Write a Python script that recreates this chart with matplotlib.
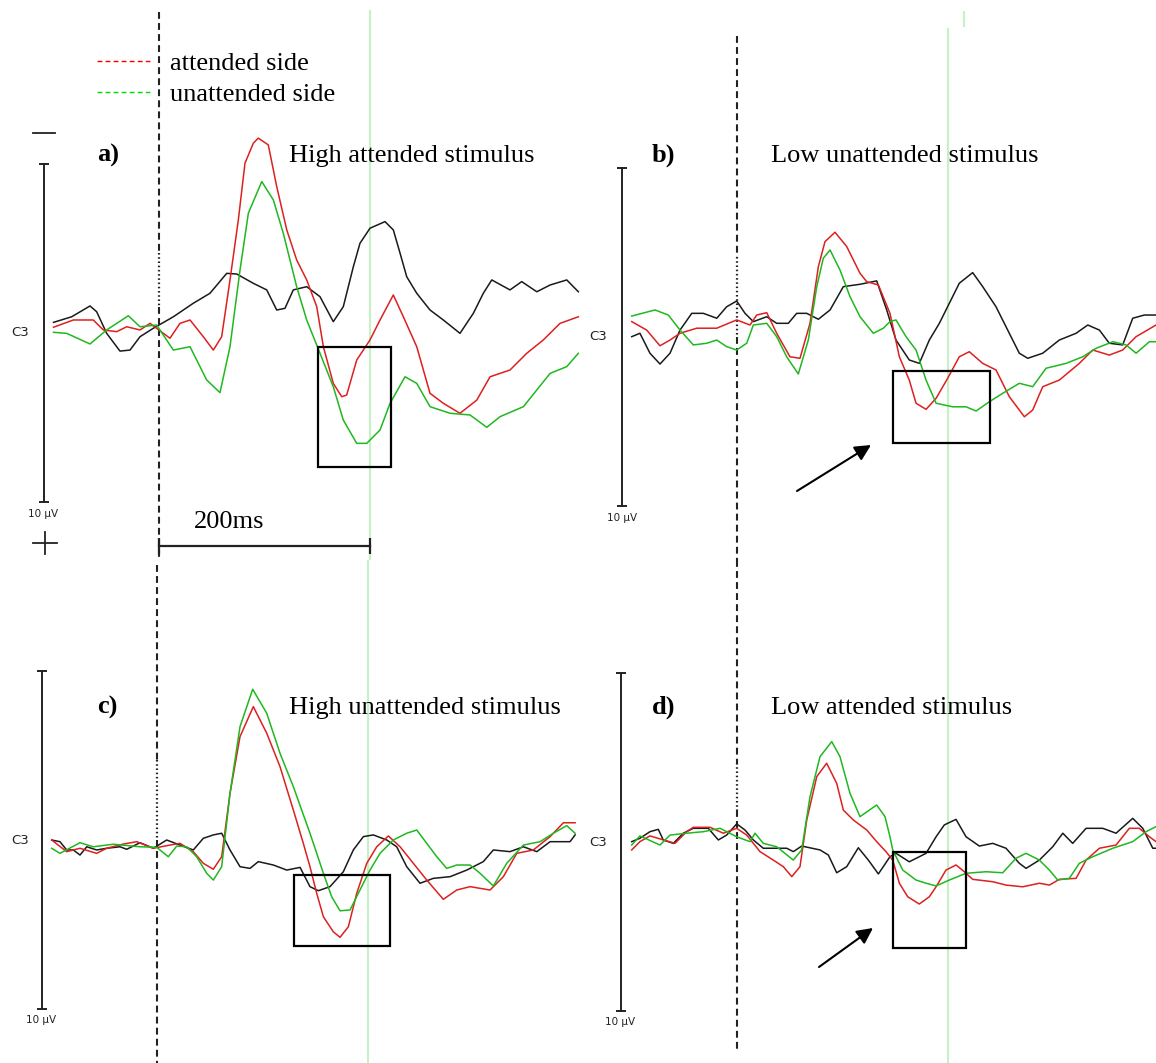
import matplotlib.pyplot as plt
from matplotlib.lines import Line2D
from matplotlib.patches import Rectangle

# ----- ERP data (time in ms, amplitude in uV, negative plotted up) -----
a_black_t = [-100, -82.8, -65.4, -59.1, -49.6, -37.0, -27.5, -18.0, -5.4, 13.6, 32.5, 48.3, 64.2, 73.7, 89.4,
             102.1, 111.6, 119.4, 127.3, 140.0, 152.6, 165.2, 174.7, 184.2, 190.5, 200.0, 214.2, 222.1, 228.5,
             234.8, 244.3, 256.9, 269.5, 285.3, 298.0, 307.4, 315.4, 332.7, 343.8, 358.1, 370.7, 386.5, 397.5]
a_black = [-0.63, -0.96, -1.60, -1.26, 0.02, 1.07, 1.01, 0.22, -0.28, -0.96, -1.76, -2.35, -3.53, -3.49, -2.94,
           -2.55, -1.36, -1.46, -2.55, -2.74, -2.15, -0.67, -1.56, -3.92, -5.31, -6.20, -6.59, -6.10, -4.72,
           -3.33, -2.35, -1.36, -0.77, 0.02, -1.17, -2.35, -3.14, -2.55, -3.04, -2.44, -2.84, -3.14, -2.44]
a_red_t = [-100, -81.2, -62.3, -52.8, -40.1, -30.6, -18.0, -8.5, 10.4, 19.9, 29.4, 42.0, 51.5, 59.4, 67.3,
           75.2, 81.5, 89.4, 94.1, 103.6, 111.6, 121.1, 130.5, 140.0, 149.5, 155.8, 165.2, 173.2, 177.9, 187.4,
           200.0, 209.5, 222.1, 231.6, 244.3, 256.9, 269.5, 285.3, 301.2, 313.8, 332.7, 348.6, 364.3, 380.1, 397.5]
a_red = [-0.34, -0.77, -0.77, -0.18, -0.08, -0.37, -0.18, -0.57, 0.31, -0.57, -0.77, 0.22, 1.01, 0.22, -3.14,
         -6.69, -10.05, -11.23, -11.53, -11.13, -8.66, -6.10, -4.32, -3.14, -1.56, 0.81, 2.98, 3.77, 3.67, 1.60,
         0.41, -0.77, -2.25, -0.96, 0.81, 3.57, 4.16, 4.75, 3.97, 2.59, 2.19, 1.20, 0.41, -0.57, -0.96]
a_green_t = [-100, -87.5, -65.4, -49.6, -29.1, -18.0, -2.2, 13.6, 29.4, 45.2, 57.8, 67.3, 76.8, 84.7, 97.4,
             108.4, 117.8, 130.5, 140.0, 152.6, 165.2, 174.7, 187.4, 196.9, 209.5, 219.0, 233.2, 244.3, 256.9,
             275.9, 294.8, 310.7, 323.3, 345.4, 370.7, 386.5, 397.5]
a_green = [-0.04, 0.02, 0.65, -0.18, -1.02, -0.37, -0.47, 1.01, 0.81, 2.78, 3.53, 0.81, -3.73, -7.09, -8.96,
           -7.87, -5.90, -2.74, -0.77, 1.20, 3.18, 5.15, 6.53, 6.53, 5.74, 4.16, 2.59, 2.98, 4.36,
           4.75, 4.85, 5.58, 4.95, 4.36, 2.39, 1.99, 1.20]

b_black_t = [-99.8, -92.0, -82.5, -73.0, -63.5, -54.0, -42.9, -31.9, -19.2, -9.8, -0.3, 7.6, 15.5, 28.2, 37.6,
             48.6, 56.6, 66.1, 77.1, 88.2, 100.8, 116.6, 132.4, 141.9, 150.7, 163.3, 172.8, 182.3, 191.8, 201.3,
             210.7, 223.4, 232.9, 245.5, 258.1, 267.6, 275.6, 289.8, 305.5, 321.4, 332.5, 343.5, 352.9, 365.6,
             375.1, 386.1, 397.2]
b_black = [-0.02, -0.22, 0.96, 1.60, 0.96, -0.41, -1.40, -1.40, -1.11, -1.79, -2.13, -1.40, -0.91, -1.20, -0.81,
           -0.81, -1.40, -1.40, -1.05, -1.60, -2.98, -3.12, -3.32, -1.60, 0.18, 1.36, 1.56, 0.18, -0.81, -2.00,
           -3.18, -3.81, -2.98, -1.79, -0.22, 0.96, 1.26, 0.96, 0.18, -0.22, -0.71, -0.41, 0.37, 0.47,
           -1.11, -1.30, -1.30]
b_red_t = [-99.8, -85.6, -73.0, -63.5, -54.0, -38.2, -19.2, -0.3, 12.3, 18.7, 28.2, 37.6, 50.2, 59.7, 69.2,
           77.1, 83.4, 92.9, 104.0, 116.6, 123.0, 134.0, 145.0, 153.9, 163.3, 169.7, 179.2, 188.7, 199.7, 210.7,
           220.2, 232.9, 245.5, 258.1, 272.4, 280.3, 289.8, 305.5, 324.5, 337.2, 352.9, 365.6, 378.3, 397.2]
b_red = [-0.91, -0.41, 0.52, 0.18, -0.22, -0.52, -0.52, -1.01, -0.71, -1.30, -1.44, -0.22, 1.17, 1.26, -0.81,
         -4.16, -5.64, -6.20, -5.35, -3.77, -3.27, -3.08, -1.40, 1.17, 2.55, 3.92, 4.28, 3.63, 2.44, 1.17,
         0.87, 1.56, 1.95, 3.53, 4.72, 4.32, 2.94, 2.55, 1.56, 0.77, 1.07, 0.77, -0.02, -0.71]
b_green_t = [-99.8, -77.7, -65.1, -54.0, -41.4, -28.7, -19.2, -9.8, -0.3, 9.2, 15.5, 28.2, 37.6, 47.1, 58.1,
             67.6, 75.6, 81.8, 88.2, 97.6, 107.1, 116.6, 129.2, 138.7, 145.0, 150.7, 160.2, 169.7, 179.2, 188.7,
             204.5, 217.1, 226.6, 239.2, 251.9, 267.6, 280.3, 292.9, 311.9, 327.7, 340.3, 356.2, 368.8, 378.3,
             390.9, 397.2]
b_green = [-1.24, -1.60, -1.30, -0.41, 0.47, 0.37, 0.18, 0.57, 0.77, 0.37, -0.71, -0.81, -0.02, 1.17, 2.19,
           0.18, -2.98, -4.66, -5.15, -3.97, -2.39, -1.20, -0.22, -0.52, -0.91, -1.01, -0.02, 0.77, 2.55, 3.92,
           4.13, 4.13, 4.38, 3.83, 3.33, 2.74, 2.94, 1.85, 1.56, 1.17, 0.67, 0.28, 0.47, 0.96,
           0.28, 0.28]

c_black_t = [-99.8, -92.0, -85.6, -79.3, -73.0, -66.6, -57.2, -47.7, -35.1, -28.7, -16.1, -3.5, 9.2, 21.8, 34.4,
             43.9, 53.4, 61.3, 69.2, 78.7, 88.2, 96.0, 110.3, 123.0, 135.6, 145.0, 152.9, 164.0, 176.6, 186.1,
             195.6, 205.1, 217.8, 227.2, 236.7, 249.3, 261.9, 277.8, 293.6, 309.3, 318.8, 334.6, 347.3, 360.0,
             372.6, 391.5, 396.3]
c_black = [0.00, 0.10, 0.59, 0.59, 0.89, 0.40, 0.59, 0.49, 0.40, 0.55, 0.16, 0.49, 0.00, 0.30, 0.59,
           -0.10, -0.30, -0.40, 0.59, 1.58, 1.68, 1.28, 1.48, 1.78, 1.62, 2.76, 3.00, 2.76, 1.88, 0.59,
           -0.20, -0.30, 0.00, 0.40, 1.58, 2.56, 2.27, 2.17, 1.78, 1.28, 0.59, 0.69, 0.40, 0.69,
           0.10, 0.10, -0.30]
c_red_t = [-99.8, -85.6, -73.0, -57.2, -47.7, -31.9, -19.2, -3.5, 12.3, 21.8, 34.4, 43.9, 53.4, 61.3, 69.2,
           78.7, 91.3, 104.0, 116.6, 129.2, 138.7, 145.0, 151.4, 157.7, 167.1, 173.5, 181.4, 189.3, 198.8, 208.3,
           219.3, 230.4, 243.0, 255.7, 271.4, 284.1, 296.7, 315.7, 328.3, 341.0, 356.7, 372.6, 385.2, 396.3]
c_red = [0.00, 0.69, 0.49, 0.79, 0.49, 0.24, 0.10, 0.49, 0.30, 0.20, 0.69, 1.38, 1.73, 0.99, -2.76,
         -6.12, -7.89, -6.32, -4.34, -1.78, 0.20, 1.58, 3.16, 4.54, 5.43, 5.76, 5.13, 3.16, 1.38, 0.40,
         -0.24, 0.40, 1.38, 2.37, 3.51, 2.96, 2.76, 2.96, 2.17, 0.79, 0.59, -0.20, -1.02, -1.02]
c_green_t = [-99.8, -92.0, -73.0, -60.4, -41.4, -16.1, -0.3, 10.7, 18.7, 28.2, 37.6, 47.1, 53.4, 61.3, 69.2,
             78.7, 90.7, 104.0, 116.6, 129.2, 145.0, 151.4, 157.7, 165.6, 173.5, 183.0, 192.4, 201.9, 211.4, 224.0,
             236.7, 246.2, 255.7, 265.2, 274.6, 284.1, 296.7, 306.2, 318.8, 331.5, 347.3, 363.1, 375.7, 388.4, 396.3]
c_green = [0.49, 0.79, 0.16, 0.40, 0.25, 0.40, 0.43, 0.99, 0.36, 0.40, 0.99, 1.97, 2.37, 1.58, -2.76,
           -6.71, -8.92, -7.50, -5.13, -3.16, -0.40, 0.79, 1.97, 3.36, 4.19, 4.14, 2.96, 1.78, 0.79, 0.00,
           -0.40, -0.59, 0.20, 0.99, 1.68, 1.48, 1.48, 1.97, 2.72, 1.38, 0.30, 0.10, -0.40, -0.85, -0.40]

d_black_t = [-99.8, -92.0, -82.5, -74.6, -69.9, -60.4, -50.9, -41.4, -27.2, -17.7, -9.8, -0.3, 7.6, 15.5, 24.9,
             47.1, 53.4, 61.3, 78.7, 86.6, 94.5, 104.0, 115.0, 124.5, 134.0, 145.0, 150.7, 163.3, 179.2, 188.7,
             196.5, 207.6, 217.1, 229.7, 242.4, 255.0, 267.6, 274.0, 286.6, 299.3, 308.8, 318.2, 330.9, 346.7,
             359.3, 375.1, 384.6, 394.1, 397.2]
d_black = [-0.02, -0.22, -0.61, -0.75, -0.12, 0.08, -0.52, -0.81, -0.81, -0.12, -0.41, -1.07, -0.71, -0.12, 0.37,
           0.37, 0.57, 0.24, 0.47, 0.77, 1.82, 1.46, 0.34, 1.07, 1.89, 0.87, 0.67, 1.17, 0.67, -0.31,
           -1.01, -1.34, -0.31, 0.24, 0.08, 0.37, 1.26, 1.56, 1.07, 0.28, -0.52, 0.08, -0.81, -0.81,
           -0.52, -1.40, -0.81, 0.37, 0.37]
d_red_t = [-99.8, -92.0, -82.5, -58.8, -47.7, -41.4, -25.6, -13.0, -0.3, 9.2, 21.8, 34.4, 43.9, 51.9, 59.7,
           66.1, 75.6, 85.0, 94.5, 100.8, 110.3, 123.0, 132.4, 141.2, 147.6, 153.9, 161.8, 172.8, 182.3, 188.7,
           198.1, 207.6, 215.5, 223.4, 242.4, 255.0, 270.8, 286.6, 296.1, 305.5, 321.4, 330.9, 343.5, 359.3,
           371.9, 381.4, 390.9, 397.2]
d_red = [0.47, -0.02, -0.36, 0.08, -0.61, -0.87, -0.87, -0.52, -0.81, -0.41, 0.57, 1.07, 1.46, 2.05, 1.46,
         -1.30, -3.87, -4.66, -3.47, -1.89, -1.30, -0.71, -0.02, 0.57, 1.07, 2.44, 3.24, 3.67, 3.24, 2.65,
         1.66, 1.36, 1.76, 2.21, 2.35, 2.55, 2.65, 2.44, 2.55, 2.21, 2.15, 1.07, 0.37, 0.18,
         -0.81, -0.81, -0.31, -0.02]
d_green_t = [-99.8, -92.0, -73.0, -63.5, -47.7, -31.9, -16.1, -0.3, 12.3, 17.1, 24.9, 37.6, 53.4, 61.3, 69.2,
             78.7, 89.8, 97.6, 107.1, 116.6, 132.4, 140.3, 145.0, 147.6, 157.1, 169.7, 179.2, 188.7, 201.3, 217.1,
             236.1, 251.9, 264.5, 274.0, 286.6, 296.1, 304.0, 315.0, 324.5, 337.2, 356.2, 375.1, 387.7, 397.2]
d_green = [0.18, -0.36, 0.18, -0.41, -0.52, -0.61, -0.81, -0.31, -0.02, -0.52, 0.08, 0.28, 1.07, 0.47, -2.68,
           -5.05, -5.94, -5.05, -2.88, -1.50, -2.19, -1.50, -0.31, 0.47, 1.66, 2.25, 2.44, 2.60, 2.25, 1.85,
           1.76, 1.82, 0.96, 0.67, 1.07, 1.66, 2.25, 2.15, 1.26, 0.87, 0.37, -0.02, -0.61, -0.91]

panel_labels = ["a)", "b)", "c)", "d)"]
panel_titles = ["High attended stimulus", "Low unattended stimulus",
                "High unattended stimulus", "Low attended stimulus"]
# analysis windows marked with boxes: (t start, t end, uV top, uV bottom)
windows = [(151, 220, 0.8, 7.9), (148, 240, 2.0, 6.3), (130, 221, 2.1, 6.3), (148, 217, 0.6, 6.3)]
legend_labels = ["attended side", "unattended side"]

# ----- layout (figure pixels) -----
W, H = 1156, 1063
PX_MS = 1.055   # pixels per ms
PX_UV = 16.9    # pixels per uV
RED, GREEN, BLACK = "#dd2020", "#1fb81f", "#1a1a1a"
SERIF = "Liberation Serif"

fig = plt.figure(figsize=(W / 100, H / 100), dpi=100)

layout = [
    dict(rect=(0, 0, 580, 560), onset=159, base=333, label=(97, 162), title=(289, 162), bar=(44, 165, 503),
         c3=20, uvlab=(43, 514), dash=[(12, 253), (307, 560)], dots=[(253, 307)], green=[(10, 560)], arrow=None),
    dict(rect=(580, 0, 576, 560), onset=737, base=337, label=(652, 162), title=(771, 162), bar=(622, 168, 506),
         c3=598, uvlab=(622, 518), dash=[(36, 257), (337, 560)], dots=[(257, 337)], green=[(28, 560)],
         arrow=((797, 491), (871, 445))),
    dict(rect=(0, 560, 580, 503), onset=157, base=840, label=(97, 714), title=(289, 714), bar=(42, 672, 1008),
         c3=20, uvlab=(41, 1020), dash=[(565, 760), (840, 1063)], dots=[(760, 840)], green=[(560, 1063)], arrow=None),
    dict(rect=(580, 560, 576, 503), onset=737, base=842, label=(652, 714), title=(771, 714), bar=(621, 673, 1010),
         c3=598, uvlab=(620, 1022), dash=[(560, 763), (810, 1050)], dots=[(763, 810)], green=[(560, 1063)],
         arrow=((819, 967), (873, 928))),
]

traces = [
    [(a_black_t, a_black, BLACK), (a_red_t, a_red, RED), (a_green_t, a_green, GREEN)],
    [(b_black_t, b_black, BLACK), (b_red_t, b_red, RED), (b_green_t, b_green, GREEN)],
    [(c_black_t, c_black, BLACK), (c_red_t, c_red, RED), (c_green_t, c_green, GREEN)],
    [(d_black_t, d_black, BLACK), (d_red_t, d_red, RED), (d_green_t, d_green, GREEN)],
]

axes = []
for i, lay in enumerate(layout):
    x0, y0, w, h = lay["rect"]
    onset, base = lay["onset"], lay["base"]
    ax = fig.add_axes([x0 / W, 1 - (y0 + h) / H, w / W, h / H])
    ax.set_xlim((x0 - onset) / PX_MS, (x0 + w - onset) / PX_MS)
    ax.set_ylim((y0 + h - base) / PX_UV, (y0 - base) / PX_UV)   # negative up
    ax.axis("off")
    axes.append(ax)

    def px(X, Y):
        return (X - onset) / PX_MS, (Y - base) / PX_UV

    # 200 ms marker line (light green)
    for (g1, g2) in lay["green"]:
        ax.vlines(200, px(0, g1)[1], px(0, g2)[1], color="#c4f2c4", lw=1.5, zorder=1)

    # stimulus onset (dashed / dotted)
    for (y1, y2) in lay["dash"]:
        ax.plot([0, 0], [px(0, y1)[1], px(0, y2)[1]], color="#222222", lw=1.5,
                dashes=(3.3, 2.0), zorder=1)
    for (y1, y2) in lay["dots"]:
        ax.plot([0, 0], [px(0, y1)[1], px(0, y2)[1]], color="#222222", lw=1.6,
                dashes=(0.7, 1.2), zorder=1)

    # traces
    for t, v, col in traces[i]:
        ax.plot(t, v, color=col, lw=1.1, zorder=3)

    # analysis window box
    t1, t2, v1, v2 = windows[i]
    ax.add_patch(Rectangle((t1, v1), t2 - t1, v2 - v1, fill=False, ec="black", lw=1.6, zorder=4))

    # amplitude scale bar +/- 10 uV
    bx, by1, by2 = lay["bar"]
    tb = px(bx, 0)[0]
    ax.plot([tb, tb], [-10, 10], color="#222222", lw=1.4, marker="_", ms=7, mew=1.4)
    ax.text(px(lay["c3"], 0)[0], 0, "C3", fontsize=9.5, color="#222222", ha="center", va="center",
            family="DejaVu Sans")
    ux, uy = px(*lay["uvlab"])
    ax.text(ux, uy, "10 \u00b5V", fontsize=7.5, color="#222222", ha="center", va="center",
            family="DejaVu Sans")

    # labels
    lx, ly = px(*lay["label"])
    ax.text(lx, ly, panel_labels[i], fontsize=19, fontweight="bold", family=SERIF, va="baseline")
    tx, ty = px(*lay["title"])
    ax.text(tx, ty, panel_titles[i], fontsize=19, family=SERIF, va="baseline")

    if lay["arrow"] is not None:
        tail, tip = lay["arrow"]
        ax.annotate("", xy=px(*tip), xytext=px(*tail),
                    arrowprops=dict(arrowstyle="-|>", color="black", lw=1.5, mutation_scale=24,
                                    shrinkA=0, shrinkB=0))

# panel a extras: polarity signs and time scale bar
ax = axes[0]
onset, base = layout[0]["onset"], layout[0]["base"]


def pxa(X, Y):
    return (X - onset) / PX_MS, (Y - base) / PX_UV


m1, m2 = pxa(33, 133), pxa(55, 133)
ax.plot([m1[0], m2[0]], [m1[1], m2[1]], color="#222222", lw=1.3)
p1, p2 = pxa(33, 543), pxa(57, 543)
ax.plot([p1[0], p2[0]], [p1[1], p2[1]], color="#222222", lw=1.3)
p3, p4 = pxa(45, 532), pxa(45, 554)
ax.plot([p3[0], p4[0]], [p3[1], p4[1]], color="#222222", lw=1.3)
sb = pxa(0, 546)[1]
ax.plot([0, 200], [sb, sb], color="#222222", lw=1.6, marker="|", ms=12, mew=1.6)
st = pxa(229, 522)
ax.text(st[0], st[1], "200ms", fontsize=19, family=SERIF, ha="center", va="center")

# short green mark at the top of panel b
axb = axes[1]
gt = (964 - layout[1]["onset"]) / PX_MS
axb.vlines(gt, (11 - layout[1]["base"]) / PX_UV, (27 - layout[1]["base"]) / PX_UV, color="#c4f2c4", lw=1.5)

# legend
handles = [Line2D([], [], color="#ff0000", lw=1.0, dashes=(3.5, 2.3)),
           Line2D([], [], color="#00dd00", lw=1.0, dashes=(3.5, 2.3))]
fig.legend(handles, legend_labels, loc="upper left", bbox_to_anchor=(97 / W, 1 - 52 / H),
           frameon=False, prop={"family": SERIF, "size": 19}, handlelength=2.0,
           handletextpad=0.75, labelspacing=0.26, borderpad=0, borderaxespad=0)

fig.savefig("out.png", dpi=100)
